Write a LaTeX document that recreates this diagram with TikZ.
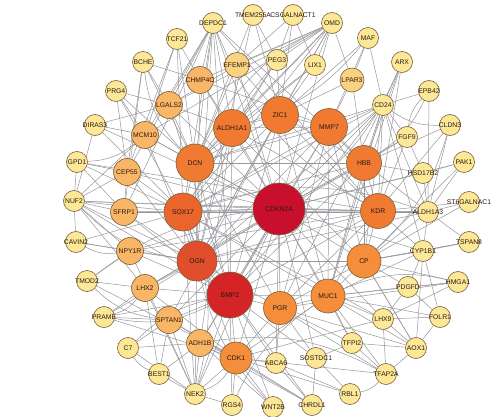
\documentclass[tikz,border=0pt]{standalone}
\usepackage{fontspec}
\setmainfont{Liberation Sans}
\usetikzlibrary{backgrounds}
\definecolor{nodeline}{RGB}{120,96,60}
\definecolor{edgegray}{RGB}{150,150,156}
\definecolor{labtext}{RGB}{40,25,20}
\definecolor{cHub}{RGB}{200,16,46}
\definecolor{cBmp}{RGB}{212,36,40}
\definecolor{cOgn}{RGB}{224,78,44}
\definecolor{cSox}{RGB}{234,100,44}
\definecolor{cOra}{RGB}{240,122,50}
\definecolor{cOrb}{RGB}{244,142,58}
\definecolor{cMid}{RGB}{249,182,102}
\definecolor{cLit}{RGB}{251,210,128}
\definecolor{cOut}{RGB}{253,232,152}
\tikzset{
    gene/.style={
        circle, draw=nodeline, line width=0.6pt, inner sep=0pt,
        text=labtext, font=\fontsize{6.8}{8}\selectfont,
        execute at begin node={\hbox to 0pt\bgroup\hss},
        execute at end node={\hss\egroup}
    },
    outer/.style={gene, fill=cOut, minimum size=21pt},
    lite/.style={gene, fill=cLit, minimum size=24pt},
    mid/.style={gene, fill=cMid, minimum size=27pt},
    big/.style={gene, fill=#1, minimum size=35pt},
    edge/.style={draw=edgegray, line width=0.5pt}
}

\begin{document}
\begin{tikzpicture}[x=1pt,y=-1pt]

% --- frame ---
    \useasboundingbox (0,0) rectangle (498,417);

% hubs
    \node[gene, fill=cHub, minimum size=52pt] (cdkn2a) at (279,209) {CDKN2A};
    \node[gene, fill=cBmp, minimum size=46pt] (bmp2)   at (230,295) {BMP2};
    \node[gene, fill=cOgn, minimum size=40pt] (ogn)    at (197,261) {OGN};
    \node[gene, fill=cSox, minimum size=38pt] (sox17)  at (183,212) {SOX17};
    \node[big=cOra, minimum size=38pt] (dcn)     at (195,163) {DCN};
    \node[big=cOra, minimum size=37pt] (aldh1a1) at (232,128) {ALDH1A1};
    \node[big=cOra, minimum size=37pt] (zic1)    at (280,115) {ZIC1};
    \node[big=cOra, minimum size=37pt] (mmp7)    at (329,127) {MMP7};
    \node[big=cOra] (hbb) at (364,163) {HBB};
    \node[big=cOra] (kdr) at (378,211) {KDR};
    \node[big=cOrb, minimum size=34pt] (cp)   at (364,261) {CP};
    \node[big=cOrb, minimum size=34pt] (muc1) at (328,296) {MUC1};
    \node[big=cOrb, minimum size=33pt] (pgr)  at (280,308) {PGR};
    \node[big=cOrb, minimum size=32pt] (cdk1) at (236,358) {CDK1};

% middle ring
    \node[mid] (sfrp1)  at (124,212) {SFRP1};
    \node[mid] (npy1r)  at (130,251) {NPY1R};
    \node[mid] (lhx2)   at (145,288) {LHX2};
    \node[mid] (sptan1) at (169,320) {SPTAN1};
    \node[mid] (adh1b)  at (200,343) {ADH1B};
    \node[mid] (cep55)  at (127,172) {CEP55};
    \node[mid] (mcm10)  at (145,135) {MCM10};
    \node[mid] (lgals2) at (169,105) {LGALS2};
    \node[mid] (chmp4c) at (200,80)  {CHMP4C};
    \node[lite, minimum size=25pt] (efemp1) at (237,65) {EFEMP1};
    \node[lite] (lpar3) at (352,80) {LPAR3};

% outer ring
    \node[outer] (depdc1)  at (213,23)  {DEPDC1};
    \node[outer] (tmem)    at (253,15)  {TMEM255A};
    \node[outer] (csgal)   at (293,15)  {CSGALNACT1};
    \node[outer] (omd)     at (332,23)  {OMD};
    \node[outer] (maf)     at (368,38)  {MAF};
    \node[outer] (arx)     at (402,62)  {ARX};
    \node[outer] (epb42)   at (429,91)  {EPB42};
    \node[outer] (cldn3)   at (450,125) {CLDN3};
    \node[outer] (peg3)    at (277,60)  {PEG3};
    \node[outer] (lix1)    at (315,65)  {LIX1};
    \node[outer] (cd24)    at (383,105) {CD24};
    \node[outer] (fgf9)    at (407,137) {FGF9};
    \node[outer] (hsd17b2) at (423,173) {HSD17B2};
    \node[outer] (pak1)    at (464,162) {PAK1};
    \node[outer] (st6)     at (469,202) {ST6GALNAC1};
    \node[outer] (aldh1a3) at (428,212) {ALDH1A3};
    \node[outer] (tspan8)  at (469,242) {TSPAN8};
    \node[outer] (cyp1b1)  at (423,251) {CYP1B1};
    \node[outer] (hmga1)   at (458,282) {HMGA1};
    \node[outer] (pdgfd)   at (408,287) {PDGFD};
    \node[outer] (folr1)   at (440,317) {FOLR1};
    \node[outer] (lhx9)    at (383,319) {LHX9};
    \node[outer] (aox1)    at (416,348) {AOX1};
    \node[outer] (tfpi2)   at (352,343) {TFPI2};
    \node[outer] (tfap2a)  at (386,374) {TFAP2A};
    \node[outer] (sostdc1) at (316,358) {SOSTDC1};
    \node[outer] (abca6)   at (276,363) {ABCA6};
    \node[outer] (rbl1)    at (350,394) {RBL1};
    \node[outer] (chrdl1)  at (312,405) {CHRDL1};
    \node[outer] (wnt2b)   at (273,407) {WNT2B};
    \node[outer] (rgs4)    at (232,405) {RGS4};
    \node[outer] (nek2)    at (195,394) {NEK2};
    \node[outer] (best1)   at (159,374) {BEST1};
    \node[outer] (c7)      at (128,348) {C7};
    \node[outer] (prame)   at (104,317) {PRAME};
    \node[outer] (tmod2)   at (87,281)  {TMOD2};
    \node[outer] (cavin2)  at (76,242)  {CAVIN2};
    \node[outer] (nuf2)    at (74,201)  {NUF2};
    \node[outer] (gpd1)    at (77,162)  {GPD1};
    \node[outer] (diras3)  at (95,125)  {DIRAS3};
    \node[outer] (prg4)    at (116,91)  {PRG4};
    \node[outer] (bche)    at (143,62)  {BCHE};
    \node[outer] (tcf21)   at (177,39)  {TCF21};

% --- edges ---
    \begin{scope}[on background layer]
    \foreach \a/\b in {
        cdkn2a/bmp2, cdkn2a/ogn, cdkn2a/sox17, cdkn2a/dcn, cdkn2a/aldh1a1,
        cdkn2a/zic1, cdkn2a/mmp7, cdkn2a/hbb, cdkn2a/kdr, cdkn2a/cp,
        cdkn2a/muc1, cdkn2a/pgr, cdkn2a/cdk1, cdkn2a/sfrp1, cdkn2a/npy1r,
        cdkn2a/lhx2, cdkn2a/sptan1, cdkn2a/adh1b, cdkn2a/cep55, cdkn2a/mcm10,
        cdkn2a/lgals2, cdkn2a/chmp4c, cdkn2a/efemp1, cdkn2a/depdc1, cdkn2a/omd,
        cdkn2a/cd24, cdkn2a/aldh1a3, cdkn2a/cyp1b1, cdkn2a/nek2, cdkn2a/nuf2,
        cdkn2a/hsd17b2, cdkn2a/fgf9, cdkn2a/pak1, cdkn2a/diras3, cdkn2a/abca6,
        cdkn2a/sostdc1, cdkn2a/tfpi2, cdkn2a/lhx9,
        bmp2/ogn, bmp2/sox17, bmp2/dcn, bmp2/aldh1a1, bmp2/zic1, bmp2/mmp7,
        bmp2/hbb, bmp2/kdr, bmp2/cp, bmp2/muc1, bmp2/pgr, bmp2/cdk1,
        bmp2/sfrp1, bmp2/npy1r, bmp2/lhx2, bmp2/sptan1, bmp2/adh1b, bmp2/nek2,
        bmp2/wnt2b, bmp2/chrdl1, bmp2/cd24, bmp2/lgals2, bmp2/depdc1, bmp2/rgs4,
        bmp2/prame, bmp2/nuf2, bmp2/sostdc1, bmp2/abca6,
        ogn/sox17, ogn/dcn, ogn/aldh1a1, ogn/zic1, ogn/mmp7, ogn/kdr, ogn/cp,
        ogn/pgr, ogn/sfrp1, ogn/npy1r, ogn/lhx2, ogn/mcm10, ogn/cep55,
        ogn/nuf2, ogn/nek2, ogn/omd, ogn/chmp4c, ogn/aldh1a3, ogn/cavin2,
        ogn/prame, ogn/tmem, ogn/cd24, ogn/depdc1,
        sox17/dcn, sox17/aldh1a1, sox17/zic1, sox17/mmp7, sox17/hbb, sox17/kdr,
        sox17/muc1, sox17/cdk1, sox17/cep55, sox17/sfrp1, sox17/depdc1,
        sox17/omd, sox17/aldh1a3, sox17/nuf2, sox17/tcf21, sox17/lhx9,
        sox17/prg4, sox17/nek2, sox17/gpd1, sox17/diras3, sox17/cavin2,
        sox17/cd24, sox17/peg3,
        dcn/aldh1a1, dcn/zic1, dcn/mmp7, dcn/hbb, dcn/pgr, dcn/lgals2,
        dcn/mcm10, dcn/prg4, dcn/bche, dcn/omd, dcn/depdc1, dcn/cd24, dcn/tmem,
        dcn/tcf21, dcn/lix1, dcn/peg3, dcn/efemp1,
        aldh1a1/zic1, aldh1a1/mmp7, aldh1a1/kdr, aldh1a1/cp, aldh1a1/chmp4c,
        aldh1a1/efemp1, aldh1a1/peg3, aldh1a1/depdc1, aldh1a1/omd,
        aldh1a1/lgals2, aldh1a1/adh1b, aldh1a1/lix1,
        zic1/mmp7, zic1/hbb, zic1/kdr, zic1/muc1, zic1/peg3, zic1/tmem,
        zic1/lix1, zic1/omd, zic1/efemp1, zic1/sptan1, zic1/maf, zic1/lpar3,
        zic1/csgal,
        mmp7/hbb, mmp7/kdr, mmp7/cp, mmp7/muc1, mmp7/pgr, mmp7/maf,
        mmp7/lpar3, mmp7/cd24, mmp7/chmp4c,
        hbb/kdr, hbb/cp, hbb/muc1, hbb/cd24, hbb/cldn3, hbb/hsd17b2,
        hbb/aldh1a3, hbb/fgf9, hbb/lhx2, hbb/arx, hbb/lpar3, hbb/depdc1,
        kdr/cp, kdr/muc1, kdr/pgr, kdr/cd24, kdr/aldh1a3, kdr/cyp1b1,
        kdr/arx, kdr/fgf9, kdr/nuf2, kdr/npy1r, kdr/depdc1, kdr/gpd1,
        kdr/cldn3, kdr/st6,
        cp/muc1, cp/pgr, cp/cd24, cp/cyp1b1, cp/aldh1a3, cp/tspan8, cp/st6,
        cp/pdgfd, cp/aox1, cp/pak1, cp/hmga1,
        muc1/pgr, muc1/cdk1, muc1/hmga1, muc1/pdgfd, muc1/tfap2a, muc1/aox1,
        muc1/cyp1b1, muc1/lhx9, muc1/tfpi2, muc1/arx, muc1/cd24, muc1/folr1,
        pgr/cdk1, pgr/tfpi2, pgr/aox1, pgr/sostdc1, pgr/abca6, pgr/hmga1,
        pgr/cd24, pgr/tfap2a,
        cdk1/adh1b, cdk1/sptan1, cdk1/nek2, cdk1/rgs4, cdk1/wnt2b,
        cdk1/chrdl1, cdk1/abca6, cdk1/tfap2a, cdk1/prame, cdk1/lhx2,
        cdk1/tmod2, cdk1/rbl1, cdk1/lhx9,
        sfrp1/cep55, sfrp1/nuf2, sfrp1/gpd1, sfrp1/depdc1, sfrp1/bche,
        npy1r/cavin2, npy1r/nek2, npy1r/nuf2, npy1r/tmod2,
        lhx2/tmod2, lhx2/prame, lhx2/nek2, lhx2/best1, lhx2/nuf2,
        sptan1/prame, sptan1/nek2, sptan1/best1, sptan1/chrdl1, sptan1/c7,
        adh1b/c7, adh1b/nek2, adh1b/best1, adh1b/chrdl1, adh1b/wnt2b,
        c7/nek2, best1/nek2, nek2/rgs4,
        cep55/gpd1, cep55/nuf2, cep55/depdc1, cep55/tcf21, cep55/prg4,
        cep55/bche,
        mcm10/nuf2, mcm10/diras3, mcm10/prg4, mcm10/depdc1, mcm10/tcf21,
        mcm10/omd,
        lgals2/diras3, lgals2/prg4, lgals2/bche, lgals2/depdc1, lgals2/omd,
        lgals2/efemp1,
        chmp4c/bche, chmp4c/depdc1, chmp4c/tcf21, chmp4c/omd,
        efemp1/omd, efemp1/csgal, peg3/tmem, peg3/csgal, peg3/omd,
        lix1/csgal, lix1/omd, lpar3/maf, lpar3/omd,
        cd24/arx, cd24/epb42, cd24/fgf9, cd24/aldh1a3, cd24/cyp1b1, cd24/maf,
        fgf9/hsd17b2, hsd17b2/pak1, hsd17b2/aldh1a3, pak1/aldh1a3,
        st6/aldh1a3, tspan8/aldh1a3, tspan8/cyp1b1, tspan8/cp,
        aldh1a3/cyp1b1, aldh1a3/epb42, aldh1a3/cldn3,
        cyp1b1/pdgfd, cyp1b1/folr1, cyp1b1/aox1,
        pdgfd/hmga1, pdgfd/folr1, pdgfd/lhx9, hmga1/lhx9,
        folr1/aox1, folr1/lhx9, aox1/tfpi2, aox1/tfap2a, aox1/lhx9, aox1/cp,
        lhx9/tfap2a, tfpi2/tfap2a, tfpi2/sostdc1,
        sostdc1/rbl1, abca6/rbl1, abca6/chrdl1, sostdc1/chrdl1,
        diras3/nuf2, gpd1/nuf2, cavin2/nuf2}
        \draw[edge] (\a) -- (\b);
% curved edges
    \foreach \a/\b in {
        nek2/cdk1, cd24/cldn3, epb42/fgf9, tmod2/sptan1, prame/lhx2,
        c7/best1, hmga1/muc1, rbl1/tfap2a, cavin2/npy1r, bche/dcn,
        nuf2/ogn, depdc1/kdr, omd/dcn, nek2/sox17, aldh1a3/sox17,
        gpd1/mcm10, prame/bmp2, tfap2a/adh1b}
        \draw[edge] (\a) to[bend right=18] (\b);
    \foreach \a/\b in {
        epb42/hbb, cldn3/cp, arx/cdkn2a, tmod2/cdkn2a, c7/bmp2,
        wnt2b/ogn, rgs4/muc1, maf/aldh1a1}
        \draw[edge] (\a) to[bend left=15] (\b);
    \end{scope}

  \end{tikzpicture}
\end{document}
